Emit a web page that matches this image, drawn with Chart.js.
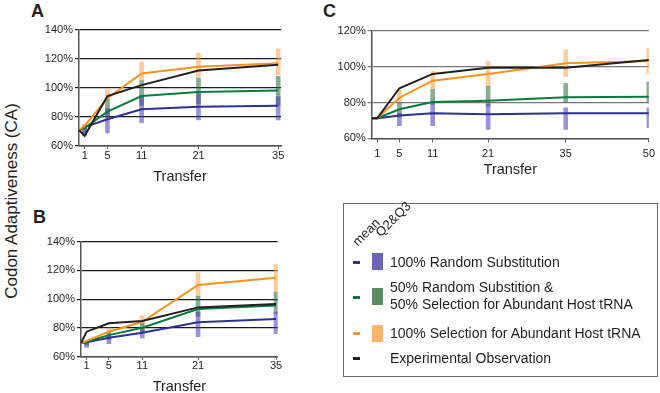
<!DOCTYPE html>
<html>
<head>
<meta charset="utf-8">
<script src="https://cdn.jsdelivr.net/npm/chart.js@4.4.0/dist/chart.umd.min.js"></script>
<style>
  html, body { margin: 0; padding: 0; background: #fff; overflow: hidden; }
  body { width: 660px; height: 393px; position: relative; font-family: "Liberation Sans", Arial, sans-serif; color: #231f20; }
  canvas { position: absolute; }
  .letter { position: absolute; font-weight: bold; font-size: 18px; line-height: 1; }
  .ylab { position: absolute; left: 12px; top: 201px; font-size: 17px; white-space: nowrap; transform: translate(-50%, -50%) rotate(-90deg); }
  .box { position: absolute; left: 343px; top: 203px; width: 313px; height: 172px; border: 1.5px solid #6d6d6d; }
  .rot { position: absolute; font-size: 13px; white-space: nowrap; transform: translate(-50%, -50%) rotate(-45deg); }
  .dash { position: absolute; left: 353px; width: 7px; height: 3px; }
  .sw { position: absolute; left: 372px; width: 11px; height: 17px; }
  .txt { position: absolute; left: 390px; font-size: 14px; line-height: 17px; white-space: nowrap; }
</style>
</head>
<body>
<div class="letter" style="left:31px; top:2px">A</div>
<div class="letter" style="left:33px; top:208px">B</div>
<div class="letter" style="left:323px; top:2px">C</div>
<div class="ylab">Codon Adaptiveness (CA)</div>

<canvas id="chartA" width="330" height="195" style="left:0; top:0"></canvas>
<canvas id="chartB" width="330" height="205" style="left:0; top:195px"></canvas>
<canvas id="chartC" width="335" height="195" style="left:325px; top:0"></canvas>

<!-- legend -->
<div class="box"></div>
<span class="rot" style="left:366px; top:232px">mean</span>
<span class="rot" style="left:393px; top:219px">Q2&amp;Q3</span>
<div class="dash" style="top:261px; background:#2e3192"></div>
<div class="sw" style="top:253px; background:#6c64b6"></div>
<div class="txt" style="top:254px">100% Random Substitution</div>
<div class="dash" style="top:296px; background:#0b7a3e"></div>
<div class="sw" style="top:288px; background:#5b8a63"></div>
<div class="txt" style="top:279px">50% Random Substition &amp;<br>50% Selection for Abundant Host tRNA</div>
<div class="dash" style="top:332px; background:#f7931e"></div>
<div class="sw" style="top:325px; background:#fdb56b"></div>
<div class="txt" style="top:325px">100% Selection for Abundant Host tRNA</div>
<div class="dash" style="top:357px; background:#231f20"></div>
<div class="txt" style="top:350px">Experimental Observation</div>

<script>
/* данные: A и B - пересевы 0..35, C - 0..50 */
const xAB = [0, 1, 5, 11, 21, 35];
const barXAB = [1, 5, 11, 21, 35];
const xC = [0, 1, 5, 11, 21, 35, 50];
const barXC = [5, 11, 21, 35, 50];
const ticksAB = [1, 5, 11, 21, 35];
const ticksC = [1, 5, 11, 21, 35, 50];

// A - mean
const aBlack  = [71, 67, 94.5, 102, 112, 116];
const aOrange = [71, 74, 93, 110, 114.7, 117];
const aGreen  = [71, 72.5, 83.7, 94.5, 97.2, 98.2];
const aBlue   = [71, 73, 78.4, 85.3, 87.1, 87.8];
// A - Q2&Q3
const aOrangeQ = [[71, 75], [91, 99], [105, 118], [108, 124], [109, 127]];
const aGreenQ  = [[69, 74], [80, 92], [88, 105], [89, 107], [88, 108]];
const aBlueQ   = [[67, 73], [69, 86], [76, 95], [78, 96], [78, 94]];

// B - mean
const bBlack  = [69.3, 77.4, 83.2, 84.8, 94.3, 96.6];
const bOrange = [69.3, 71, 77.4, 84.3, 109.9, 115];
const bGreen  = [69.3, 70.4, 75, 80.2, 93.2, 95.7];
const bBlue   = [69.3, 70, 73.2, 76.7, 83.9, 86.2];
// B - Q2&Q3
const bOrangeQ = [[69, 71], [76, 80], [82, 88.5], [102, 118.5], [105, 124]];
const bGreenQ  = [[68, 70.5], [72, 77], [77, 83], [88, 102], [90, 105]];
const bBlueQ   = [[66.5, 69.5], [69, 74], [73, 79], [74, 91], [76, 91]];

// C - mean
const cBlack  = [71.2, 71.2, 88, 96, 99.5, 99.5, 103.8];
const cOrange = [71.2, 71.2, 82.7, 92.2, 96, 101.9, 103.2];
const cGreen  = [71.2, 71.2, 76.2, 80.3, 81, 82.9, 83.3];
const cBlue   = [71.2, 71.2, 72.7, 74, 73.4, 74, 74];
// C - Q2&Q3
const cOrangeQ = [[80, 87], [88, 97.5], [89, 103], [94.5, 109.5], [96, 110.5]];
const cGreenQ  = [[72, 80], [79, 87.5], [78, 89], [80, 90.7], [80, 91.5]];
const cBlueQ   = [[67, 74], [67, 80], [65, 79], [65, 77], [66, 77]];

const BLACK = '#231f20', ORANGE = '#f7931e', GREEN = '#0b7a3e', BLUE = '#2e3192';
const ORANGE_Q = 'rgba(253, 160, 70, 0.55)';
const GREEN_Q = 'rgba(40, 105, 60, 0.55)';
const BLUE_Q = 'rgba(70, 60, 185, 0.55)';

Chart.defaults.font.family = '"Liberation Sans", Arial, sans-serif';
Chart.defaults.color = '#231f20';

function panel(id, xs, barXs, lines, bars, o) {
  const datasets = [];
  lines.forEach(([vals, color]) => datasets.push({
    type: 'line',
    data: xs.map((x, i) => ({ x: x, y: vals[i] })),
    borderColor: color,
    borderWidth: 2,
    pointRadius: 0,
    tension: 0,
    order: 0
  }));
  bars.forEach(([vals, color]) => datasets.push({
    type: 'bar',
    data: barXs.map((x, i) => ({ x: x, y: vals[i] })),
    backgroundColor: color,
    barThickness: 4,
    grouped: false,
    order: 1
  }));

  return new Chart(document.getElementById(id), {
    type: 'line',
    data: { datasets: datasets },
    options: {
      responsive: false,
      animation: false,
      layout: { padding: o.pad },
      plugins: {
        legend: { display: false },
        tooltip: { enabled: false }
      },
      scales: {
        x: {
          type: 'linear',
          min: 0,
          max: o.xMax,
          offset: false,
          afterBuildTicks: s => { s.ticks = o.xTicks.map(v => ({ value: v })); },
          afterFit: s => { s.height = o.xH; },
          grid: { drawOnChartArea: false, tickLength: o.tl, color: '#555', offset: false },
          border: { color: '#555', width: 1.5 },
          ticks: { padding: o.tp, font: { size: 11 }, maxRotation: 0, autoSkip: false },
          title: { display: true, text: 'Transfer', font: { size: 14.5 }, padding: 0 }
        },
        y: {
          min: 60,
          max: o.yMax,
          afterFit: s => { s.width = o.yW; },
          ticks: { stepSize: 20, callback: v => v + '%', padding: 2, font: { size: 11 } },
          grid: { color: o.grid, lineWidth: 1.2, tickLength: 4 },
          border: { color: '#555', width: 1.5 }
        }
      }
    }
  });
}

panel('chartA', xAB, barXAB,
  [[aBlack, BLACK], [aOrange, ORANGE], [aGreen, GREEN], [aBlue, BLUE]],
  [[aBlueQ, BLUE_Q], [aGreenQ, GREEN_Q], [aOrangeQ, ORANGE_Q]],
  { pad: { top: 30, left: 30, right: 49, bottom: 9 }, yW: 49, xH: 40, xMax: 35.5, yMax: 140,
    xTicks: ticksAB, tl: 3, tp: 0, grid: '#1a1a1a' });

panel('chartB', xAB, barXAB,
  [[bBlack, BLACK], [bOrange, ORANGE], [bGreen, GREEN], [bBlue, BLUE]],
  [[bBlueQ, BLUE_Q], [bGreenQ, GREEN_Q], [bOrangeQ, ORANGE_Q]],
  { pad: { top: 46.7, left: 30, right: 52.3, bottom: 4.3 }, yW: 51, xH: 39, xMax: 35.3, yMax: 140,
    xTicks: ticksAB, tl: 3, tp: 0, grid: '#1a1a1a' });

panel('chartC', xC, barXC,
  [[cBlack, BLACK], [cOrange, ORANGE], [cGreen, GREEN], [cBlue, BLUE]],
  [[cBlueQ, BLUE_Q], [cGreenQ, GREEN_Q], [cOrangeQ, ORANGE_Q]],
  { pad: { top: 31, left: 5, right: 8.3, bottom: 16.3 }, yW: 41.7, xH: 40.4, xMax: 50, yMax: 120,
    xTicks: ticksC, tl: 4, tp: 5, grid: '#777' });
</script>
</body>
</html>
